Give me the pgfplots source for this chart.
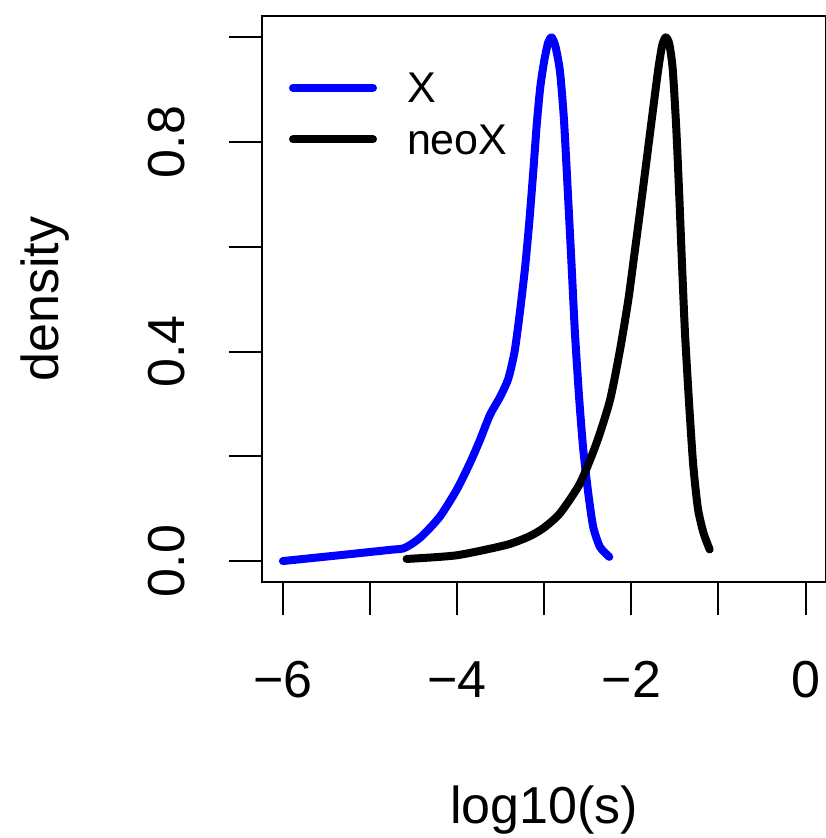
\documentclass[border=0pt]{standalone}
\usepackage{pgfplots}
\pgfplotsset{compat=1.18}
\usepackage{fontspec}
\setmainfont{Liberation Sans}
\definecolor{rblue}{RGB}{0,0,255}
\pgfplotstableread{
x y
-6.00 0.000
-5.30 0.012
-4.75 0.0217
-4.618 0.024
-4.50 0.035
-4.389 0.050
-4.197 0.085
-4.005 0.136
-3.853 0.187
-3.738 0.231
-3.623 0.279
-3.508 0.313
-3.413 0.348
-3.34 0.400
-3.28 0.474
-3.22 0.560
-3.17 0.650
-3.125 0.745
-3.085 0.835
-3.045 0.905
-3.00 0.955
-2.955 0.990
-2.914 1.000
-2.87 0.982
-2.819 0.935
-2.773 0.842
-2.724 0.689
-2.685 0.562
-2.647 0.435
-2.597 0.307
-2.551 0.212
-2.494 0.129
-2.437 0.065
-2.36 0.027
-2.253 0.008
}\blueX
\pgfplotstableread{
x y
-4.58 0.004
-4.005 0.011
-3.43 0.031
-3.16 0.048
-3.00 0.064
-2.82 0.091
-2.59 0.148
-2.40 0.225
-2.245 0.307
-2.13 0.403
-2.035 0.498
-1.958 0.594
-1.89 0.680
-1.766 0.842
-1.69 0.940
-1.645 0.985
-1.605 1.000
-1.565 0.988
-1.525 0.940
-1.485 0.830
-1.45 0.700
-1.42 0.575
-1.385 0.440
-1.34 0.310
-1.29 0.185
-1.235 0.100
-1.17 0.053
-1.10 0.022
}\neoX
\begin{document}
\begin{tikzpicture}
\begin{axis}[
  scale only axis, width=282.2pt, height=282.8pt,
  xmin=-6.24, xmax=0.24, ymin=-0.04, ymax=1.04,
  axis line style={line width=1pt},
  every tick/.style={line width=1pt, black},
  tick align=outside, major tick length=16.5pt,
  xtick pos=bottom, ytick pos=left,
  xtick={-6,-5,-4,-3,-2,-1,0}, xticklabels={−6,,−4,,−2,,0},
  ytick={0,0.2,0.4,0.6,0.8,1}, yticklabels={0.0,,0.4,,0.8,},
  ticklabel style={font=\fontsize{26}{31}\selectfont},
  xticklabel style={anchor=base, yshift=-41pt},
  yticklabel style={xshift=-22pt, rotate=90, anchor=base},
  xlabel={log10(s)}, ylabel={density},
  label style={font=\fontsize{26}{31}\selectfont},
  xlabel style={at={(axis description cs:0.5,-0.4261)}, anchor=base},
  ylabel style={at={(axis description cs:-0.3614,0.5)}, rotate=0, anchor=base},
  legend cell align=left,
  legend style={at={(axis description cs:0,1)}, anchor=north west, xshift=13.5pt, yshift=-25.3pt,
    draw=none, fill=none, inner sep=0pt, outer sep=0pt, row sep=0pt, column sep=15pt,
    font=\fontsize{21.5}{25}\selectfont,
    nodes={inner sep=0pt, outer sep=0pt, text height=18pt, text depth=7.75pt, anchor=base west}},
  legend image code/.code={\draw[#1] (0pt,7.6pt) -- (40pt,7.6pt);},
]
\addplot[rblue, line width=4pt, line cap=round, line join=round, smooth, tension=0.4] table[x=x,y=y] {\blueX};
\addlegendentry{X}
\addplot[black, line width=4pt, line cap=round, line join=round, smooth, tension=0.4] table[x=x,y=y] {\neoX};
\addlegendentry{neoX}
\end{axis}
\pgfresetboundingbox
\path (-131pt,-128pt) rectangle (281.5pt,291pt);
\end{tikzpicture}
\end{document}
